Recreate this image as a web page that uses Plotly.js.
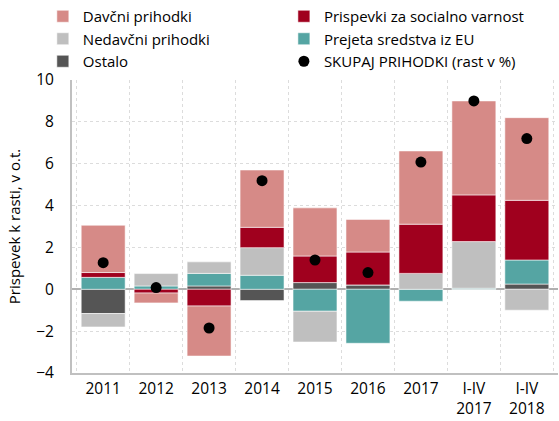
<!DOCTYPE html>
<html>
<head>
<meta charset="utf-8">
<script src="https://cdn.plot.ly/plotly-3.0.1.min.js"></script>
<style>html,body{margin:0;padding:0;background:#fff;}#chart{width:559px;height:421px;}</style>
</head>
<body>
<div id="chart"></div>
<script>
const categories = ['2011','2012','2013','2014','2015','2016','2017','I-IV<br>2017','I-IV<br>2018'];
const ostalo     = [-1.16, 0.00, 0.16, -0.54, 0.32, 0.21, 0.00, 0.00, 0.25];
const prejetaEU  = [0.57, 0.16, 0.60, 0.67, -1.05, -2.58, -0.57, 0.05, 1.15];
const nedavcni   = [-0.64, 0.59, 0.55, 1.32, -1.47, 0.00, 0.76, 2.23, -1.00];
const prispevki  = [0.23, -0.18, -0.80, 0.97, 1.27, 1.57, 2.35, 2.23, 2.85];
const davcni     = [2.26, -0.47, -2.39, 2.74, 2.30, 1.56, 3.50, 4.49, 3.95];
const skupaj     = [1.27, 0.08, -1.85, 5.19, 1.40, 0.80, 6.08, 9.00, 7.20];

const names = {
  davcni: 'Davčni prihodki',
  prispevki: 'Prispevki za socialno varnost',
  nedavcni: 'Nedavčni prihodki',
  eu: 'Prejeta sredstva iz EU',
  ostalo: 'Ostalo',
  skupaj: 'SKUPAJ PRIHODKI (rast v %)'
};

const edge = {color: 'rgba(255,255,255,0.55)', width: 1};
function bar(y, name, color, rank, leg) {
  return {type: 'bar', x: categories, y: y, name: name, legendrank: rank, legend: leg,
          marker: {color: color, line: edge}, hoverinfo: 'y+name'};
}
const data = [
  bar(ostalo, names.ostalo, '#555555', 3, 'legend'),
  bar(prejetaEU, names.eu, '#55A5A3', 2, 'legend2'),
  bar(nedavcni, names.nedavcni, '#BFBFBF', 2, 'legend'),
  bar(prispevki, names.prispevki, '#A0001E', 1, 'legend2'),
  bar(davcni, names.davcni, '#D68A87', 1, 'legend'),
  {type: 'scatter', mode: 'markers', x: categories, y: skupaj, name: names.skupaj,
   legendrank: 3, legend: 'legend2', marker: {color: '#000000', size: 11}}
];

const legendBase = {
  orientation: 'v', xanchor: 'left', y: 1, yanchor: 'top', yref: 'container',
  traceorder: 'normal', font: {size: 15}, bgcolor: 'rgba(0,0,0,0)', tracegroupgap: 0
};

const layout = {
  width: 559, height: 421,
  margin: {l: 72, r: 1, t: 80, b: 48, autoexpand: false},
  paper_bgcolor: '#ffffff', plot_bgcolor: '#ffffff',
  font: {family: 'Open Sans, DejaVu Sans, sans-serif', size: 15, color: '#000000'},
  barmode: 'relative',
  bargap: 0.17,
  showlegend: true,
  legend: Object.assign({}, legendBase, {x: -0.06}),
  legend2: Object.assign({}, legendBase, {x: 0.436}),
  xaxis: {
    type: 'category', tickson: 'boundaries', showgrid: true, automargin: false,
    gridcolor: '#dcdcdc', griddash: 'dot', gridwidth: 1,
    showline: true, linecolor: '#c0c0c0', linewidth: 2,
    ticks: '', ticklabelstandoff: 0, tickfont: {size: 15.5}
  },
  yaxis: {
    range: [-4, 10], dtick: 2, tick0: 0, automargin: false,
    showgrid: true, gridcolor: '#dcdcdc', griddash: 'dot', gridwidth: 1,
    zeroline: true, zerolinecolor: '#b0b0b0', zerolinewidth: 2,
    showline: true, linecolor: '#c0c0c0', linewidth: 2,
    ticks: '', ticklabelstandoff: 13, tickfont: {size: 15.5},
    title: {text: 'Prispevek k rasti, v o.t.', font: {size: 15}, standoff: 12}
  }
};

Plotly.newPlot('chart', data, layout, {displayModeBar: false, staticPlot: true});
</script>
</body>
</html>
